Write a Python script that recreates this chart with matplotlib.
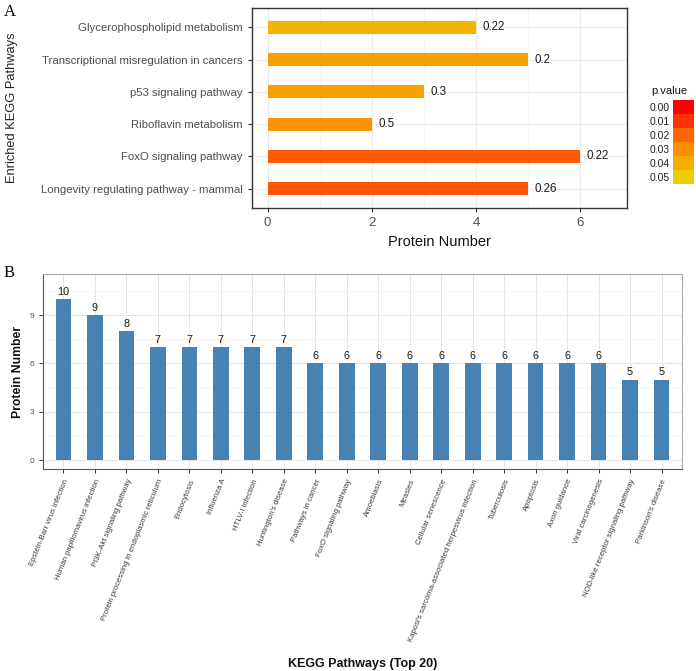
import matplotlib
matplotlib.use("Agg")
import matplotlib.pyplot as plt
import numpy as np
from matplotlib.colors import LinearSegmentedColormap

# ---------------- data ----------------
a_pathways = ["Longevity regulating pathway - mammal", "FoxO signaling pathway",
              "Riboflavin metabolism", "p53 signaling pathway",
              "Transcriptional misregulation in cancers", "Glycerophospholipid metabolism"]
a_counts = [5, 6, 2, 3, 5, 4]
a_ratio_labels = ["0.26", "0.22", "0.5", "0.3", "0.2", "0.22"]
a_pvalues = [0.0167, 0.0177, 0.032, 0.036, 0.036, 0.042]
legend_levels = [0.00, 0.01, 0.02, 0.03, 0.04, 0.05]

b_pathways = ["Epstein-Barr virus infection", "Human papillomavirus infection",
              "PI3K-Akt signaling pathway", "Protein processing in endoplasmic reticulum",
              "Endocytosis", "Influenza A", "HTLV-I infection", "Huntington's disease",
              "Pathways in cancer", "FoxO signaling pathway", "Amoebiasis", "Measles",
              "Cellular senescence", "Kaposi's sarcoma-associated herpesvirus infection",
              "Tuberculosis", "Apoptosis", "Axon guidance", "Viral carcinogenesis",
              "NOD-like receptor signaling pathway", "Parkinson's disease"]
b_counts = [10, 9, 8, 7, 7, 7, 7, 7, 6, 6, 6, 6, 6, 6, 6, 6, 6, 6, 5, 5]
b_yticks = [0, 3, 6, 9]

# ---------------- style ----------------
sans = ['Liberation Sans', 'DejaVu Sans']
narrow = ['Liberation Sans Narrow', 'Liberation Sans', 'DejaVu Sans']
serif = ['Liberation Serif', 'DejaVu Serif']
plt.rcParams['font.family'] = sans

W, H = 696, 671
fig = plt.figure(figsize=(W / 100, H / 100), dpi=100)

def fbox(x0, y0, x1, y1):
    return [x0 / W, 1 - y1 / H, (x1 - x0) / W, (y1 - y0) / H]

cmap = LinearSegmentedColormap.from_list("pv", ["#FF0000", "#FF7F00", "#EECC00"])
norm = plt.Normalize(0, 0.05)

# ---------------- Panel A ----------------
axA = fig.add_axes(fbox(252, 8, 627, 208))
ya = np.arange(len(a_pathways))
axA.barh(ya, a_counts, height=0.4, color=[cmap(norm(p)) for p in a_pvalues], zorder=3)
for y, c, t in zip(ya, a_counts, a_ratio_labels):
    axA.text(c + 0.12, y, t, va='center', ha='left', fontsize=8.3, color='#1a1a1a', zorder=4)
axA.set_xlim(-0.3, 6.9)
axA.set_ylim(-0.6, 5.6)
axA.set_yticks(ya)
axA.set_yticklabels(a_pathways, fontsize=8.2, color='#4D4D4D')
axA.set_xticks([0, 2, 4, 6])
axA.set_xticklabels(['0', '2', '4', '6'], fontsize=9.5, color='#4D4D4D')
axA.set_xticks([1, 3, 5], minor=True)
axA.tick_params(axis='both', which='major', length=3, color='#333333', width=0.8)
axA.tick_params(axis='x', which='minor', length=0)
axA.grid(True, which='major', color='#EBEBEB', lw=0.8, zorder=0)
axA.grid(True, which='minor', axis='x', color='#F3F3F3', lw=0.5, zorder=0)
for s in axA.spines.values():
    s.set_color('#333333'); s.set_linewidth(1.0)
axA.set_xlabel("Protein Number", fontsize=10.5, color='#111111', labelpad=4)
fig.text(12 / W, 1 - 108 / H, "Enriched KEGG Pathways", rotation=90, va='center', ha='center',
         fontsize=9.3, color='#222222')
fig.text(4 / W, 1 - 12 / H, "A", fontsize=12, family=serif, va='center', ha='left')

# legend for p.value
axL = fig.add_axes(fbox(673, 100, 694, 184))
yl = np.arange(len(legend_levels))
axL.barh(yl, [1] * len(yl), height=1.0, color=[cmap(norm(v)) for v in legend_levels])
axL.set_ylim(len(yl) - 0.5, -0.5)
axL.set_xlim(0, 1)
axL.set_xticks([])
axL.set_yticks(yl)
axL.set_yticklabels([f"{v:.2f}" for v in legend_levels], fontsize=7.5, color='#222222')
axL.tick_params(axis='y', length=0, pad=2)
for s in axL.spines.values():
    s.set_visible(False)
fig.text(651 / W, 1 - 91 / H, "p.value", fontsize=8, ha='left', va='center', color='#111111')

# ---------------- Panel B ----------------
axB = fig.add_axes(fbox(43, 274, 682, 469))
xb = np.arange(len(b_pathways))
axB.bar(xb, b_counts, width=0.5, color='#4682B4', zorder=3)
for x, c in zip(xb, b_counts):
    axB.text(x, c + 0.15, str(c), ha='center', va='bottom', fontsize=7.8, color='#1a1a1a', zorder=4)
axB.set_xlim(-0.65, len(b_pathways) - 0.35)
axB.set_ylim(-0.55, 11.55)
axB.set_yticks(b_yticks)
axB.set_yticklabels([str(v) for v in b_yticks], fontsize=6, color='#4D4D4D', family=narrow)
axB.set_yticks([1.5, 4.5, 7.5, 10.5], minor=True)
axB.set_xticks(xb)
axB.set_xticklabels(b_pathways, rotation=68, ha='right', rotation_mode='anchor',
                    fontsize=5.6, color='#3A3A3A', family=narrow)
axB.tick_params(axis='both', which='major', length=3, color='#333333', width=0.7)
axB.tick_params(axis='y', which='minor', length=0)
axB.grid(True, which='major', color='#E5E5E5', lw=0.7, zorder=0)
axB.grid(True, which='minor', axis='y', color='#F0F0F0', lw=0.5, zorder=0)
for k, s in axB.spines.items():
    s.set_color('#AAAAAA'); s.set_linewidth(0.8)
axB.spines['left'].set_color('#555555')
axB.spines['bottom'].set_color('#555555')
fig.text(18 / W, 1 - 372 / H, "Protein Number", rotation=90, va='center', ha='center',
         fontsize=8.8, fontweight='bold', family=narrow, color='#111111')
fig.text(363 / W, 1 - 664 / H, "KEGG Pathways (Top 20)", va='center', ha='center',
         fontsize=9, fontweight='bold', color='#111111')
fig.text(4 / W, 1 - 273 / H, "B", fontsize=12, family=serif, va='center', ha='left')

fig.savefig("out.png", dpi=100)
